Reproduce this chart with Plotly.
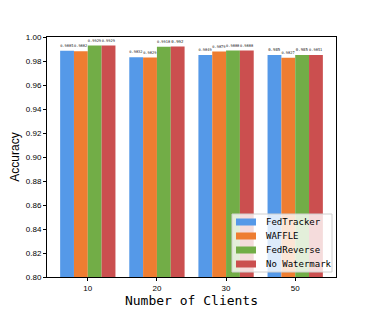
import plotly.graph_objects as go

clients = ["10", "20", "30", "50"]
fedtracker = [0.9885, 0.9832, 0.9849, 0.9850]
waffle = [0.9882, 0.9829, 0.9879, 0.9827]
fedreverse = [0.9929, 0.9918, 0.9888, 0.985]
no_watermark = [0.9929, 0.992, 0.9888, 0.9851]

series = [
    ("FedTracker", fedtracker, "#5599e8"),
    ("WAFFLE", waffle, "#ee7d31"),
    ("FedReverse", fedreverse, "#72ad47"),
    ("No Watermark", no_watermark, "#cb4f4f"),
]

# figure geometry (the page adds an 8px body margin)
W, H = 366, 304
L, R, T, B = 39, 38, 29, 35
PW, PH = W - L - R, H - T - B

def px(x):
    return (x - L) / PW

def py(y):
    return (H - B - y) / PH

fig = go.Figure()
for name, vals, color in series:
    fig.add_trace(go.Bar(
        x=clients, y=vals, name=name, marker_color=color,
        marker_line_width=0,
        text=[str(v) for v in vals], textposition="outside",
        textfont=dict(size=4, color="#222", family="DejaVu Sans Mono"),
        cliponaxis=False, showlegend=False,
    ))

# custom legend, matplotlib style
shapes = [dict(type="rect", xref="paper", yref="paper",
               x0=px(224), x1=px(324), y0=py(264), y1=py(206),
               fillcolor="rgba(255,255,255,0.8)", line=dict(color="#d0d0d0", width=1))]
annotations = []
for i, (name, vals, color) in enumerate(series):
    cy = 214 + 14 * i
    shapes.append(dict(type="rect", xref="paper", yref="paper",
                       x0=px(228), x1=px(248), y0=py(cy + 3.5), y1=py(cy - 3.5),
                       fillcolor=color, line=dict(width=0)))
    annotations.append(dict(xref="paper", yref="paper", x=px(256), y=py(cy),
                            xanchor="left", yanchor="middle", showarrow=False,
                            text=name, font=dict(family="DejaVu Sans Mono", size=9, color="black")))

fig.update_layout(
    width=W, height=H,
    margin=dict(l=L, r=R, t=T, b=B, autoexpand=False),
    paper_bgcolor="white", plot_bgcolor="white",
    barmode="group", bargap=0.2, bargroupgap=0,
    font=dict(family="Liberation Sans", color="black"),
    showlegend=False,
    shapes=shapes, annotations=annotations,
)
fig.update_xaxes(
    range=[-0.59, 3.59], showline=True, linecolor="black", linewidth=1,
    mirror=True, ticks="outside", ticklen=3, tickcolor="black",
    tickfont=dict(size=8), automargin=False,
    title=dict(text="Number of Clients", font=dict(family="DejaVu Sans Mono", size=13), standoff=1),
)
fig.update_yaxes(
    range=[0.80, 1.00], dtick=0.02, tickformat=".2f",
    showline=True, linecolor="black", linewidth=1, mirror=True,
    ticks="outside", ticklen=3, tickcolor="black", showgrid=False,
    tickfont=dict(size=8), automargin=False,
    title=dict(text="Accuracy", font=dict(size=12), standoff=6),
)

fig.write_html("out.html")
